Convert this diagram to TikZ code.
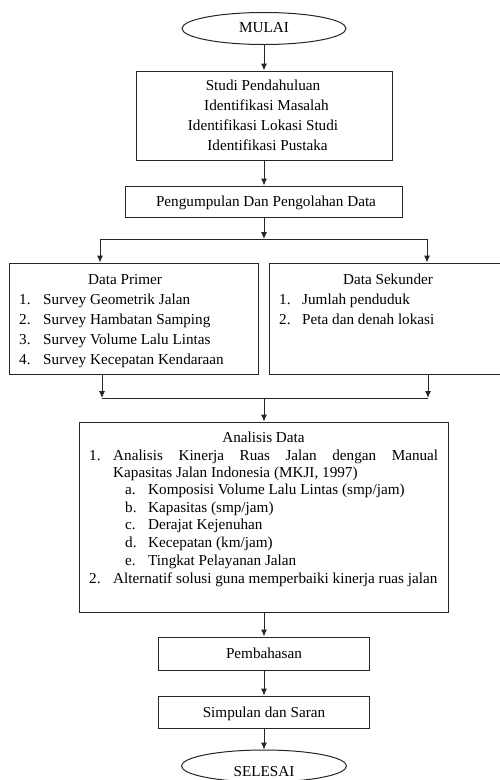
\documentclass[tikz,border=0pt]{standalone}
\usepackage{fontspec}
\setmainfont{Liberation Serif}
\usetikzlibrary{arrows.meta,shapes.geometric}
\begin{document}
\begin{tikzpicture}[x=1pt,y=-1pt,
  box/.style={draw=black!85, line width=1pt, rectangle, inner sep=0pt},
  oval/.style={draw=black!85, line width=1pt, ellipse, inner sep=0pt},
  txt/.style={anchor=base, inner sep=0pt, font=\fontsize{15.2}{19}\selectfont},
  txtl/.style={txt, anchor=base west},
  arr/.style={draw=black!85, line width=1pt, -{Latex[length=7pt,width=6pt]}},
  ln/.style={draw=black!85, line width=1pt}]
\useasboundingbox (0,0) rectangle (500,780);
\clip (0,0) rectangle (500,780);

% shapes
\node[oval, minimum width=164pt, minimum height=32pt] (mulai) at (264,28.5) {};
\node[box, minimum width=256pt, minimum height=89pt] (studi) at (264,115.5) {};
\node[box, minimum width=277pt, minimum height=31pt] (kumpul) at (264,201.5) {};
\node[box, minimum width=249pt, minimum height=111pt] (primer) at (133.5,318.5) {};
\node[box, minimum width=236pt, minimum height=111pt] (sekunder) at (387,318.5) {};
\node[box, minimum width=369pt, minimum height=190pt] (analisis) at (264,517) {};
\node[box, minimum width=211pt, minimum height=33pt] (bahas) at (264,653.5) {};
\node[box, minimum width=211pt, minimum height=32pt] (simpul) at (264,712) {};
\node[oval, minimum width=165pt, minimum height=32pt] (selesai) at (264,766) {};

% texts
\node[txt] (tmulai) at (264,32) {MULAI};
\node[txt] (t1a) at (263,90) {Studi Pendahuluan};
\node[txt] (t1b) at (266.5,110) {Identifikasi Masalah};
\node[txt] (t1c) at (263,130) {Identifikasi Lokasi Studi};
\node[txt] (t1d) at (267.5,150) {Identifikasi Pustaka};
\node[txt] (t2) at (266,206.5) {Pengumpulan Dan Pengolahan Data};

\node[txt] (tp) at (125,284) {Data Primer};
\node[txtl] (tp1n) at (19,304) {1.};
\node[txtl] (tp1) at (43,304) {Survey Geometrik Jalan};
\node[txtl] (tp2n) at (19,324) {2.};
\node[txtl] (tp2) at (43,324) {Survey Hambatan Samping};
\node[txtl] (tp3n) at (19,344) {3.};
\node[txtl] (tp3) at (43,344) {Survey Volume Lalu Lintas};
\node[txtl] (tp4n) at (19,364) {4.};
\node[txtl] (tp4) at (43,364) {Survey Kecepatan Kendaraan};

\node[txt] (ts) at (388,284) {Data Sekunder};
\node[txtl] (ts1n) at (279,304) {1.};
\node[txtl] (ts1) at (302,304) {Jumlah penduduk};
\node[txtl] (ts2n) at (279,324) {2.};
\node[txtl] (ts2) at (302,324) {Peta dan denah lokasi};

\node[txt] (ta) at (263.5,442) {Analisis Data};
\node[txtl] (ta1n) at (89,460) {1.};
\node[txtl] (ta1) at (113,460) {\makebox[325pt][s]{Analisis Kinerja Ruas Jalan dengan Manual}};
\node[txtl] (ta1b) at (113,477.5) {Kapasitas Jalan Indonesia (MKJI, 1997)};
\node[txtl] (taan) at (125,494.5) {a.};
\node[txtl] (taa) at (148,494.5) {Komposisi Volume Lalu Lintas (smp/jam)};
\node[txtl] (tabn) at (125,512) {b.};
\node[txtl] (tab) at (148,512) {Kapasitas (smp/jam)};
\node[txtl] (tacn) at (125,529.5) {c.};
\node[txtl] (tac) at (148,529.5) {Derajat Kejenuhan};
\node[txtl] (tadn) at (125,547) {d.};
\node[txtl] (tad) at (148,547) {Kecepatan (km/jam)};
\node[txtl] (taen) at (125,565) {e.};
\node[txtl] (tae) at (148,565) {Tingkat Pelayanan Jalan};
\node[txtl] (ta2n) at (89,583) {2.};
\node[txtl] (ta2) at (113,583) {Alternatif solusi guna memperbaiki kinerja ruas jalan};

\node[txt] (tb) at (264,658.5) {Pembahasan};
\node[txt] (tsp) at (264,717) {Simpulan dan Saran};
\node[txt] (tsl) at (264,776) {SELESAI};

% junction coordinates
\coordinate (jm) at (264,239);
\coordinate (jl) at (100,239);
\coordinate (jr) at (427,239);
\coordinate (kl) at (102,398);
\coordinate (kr) at (428,398);
\coordinate (km) at (264,398);

% connectors
\draw[arr] (mulai.south) -- (studi.north);
\draw[arr] (studi.south) -- (kumpul.north);
\draw[arr] (kumpul.south) -- (jm);
\draw[ln] (jl) -- (jr);
\draw[arr] (jl) -- (jl |- primer.north);
\draw[arr] (jr) -- (jr |- sekunder.north);
\draw[arr] (kl |- primer.south) -- (kl);
\draw[arr] (kr |- sekunder.south) -- (kr);
\draw[ln] (kl) -- (kr);
\draw[arr] (km) -- (analisis.north);
\draw[arr] (analisis.south) -- (bahas.north);
\draw[arr] (bahas.south) -- (simpul.north);
\draw[arr] (simpul.south) -- (selesai.north);
\end{tikzpicture}
\end{document}
